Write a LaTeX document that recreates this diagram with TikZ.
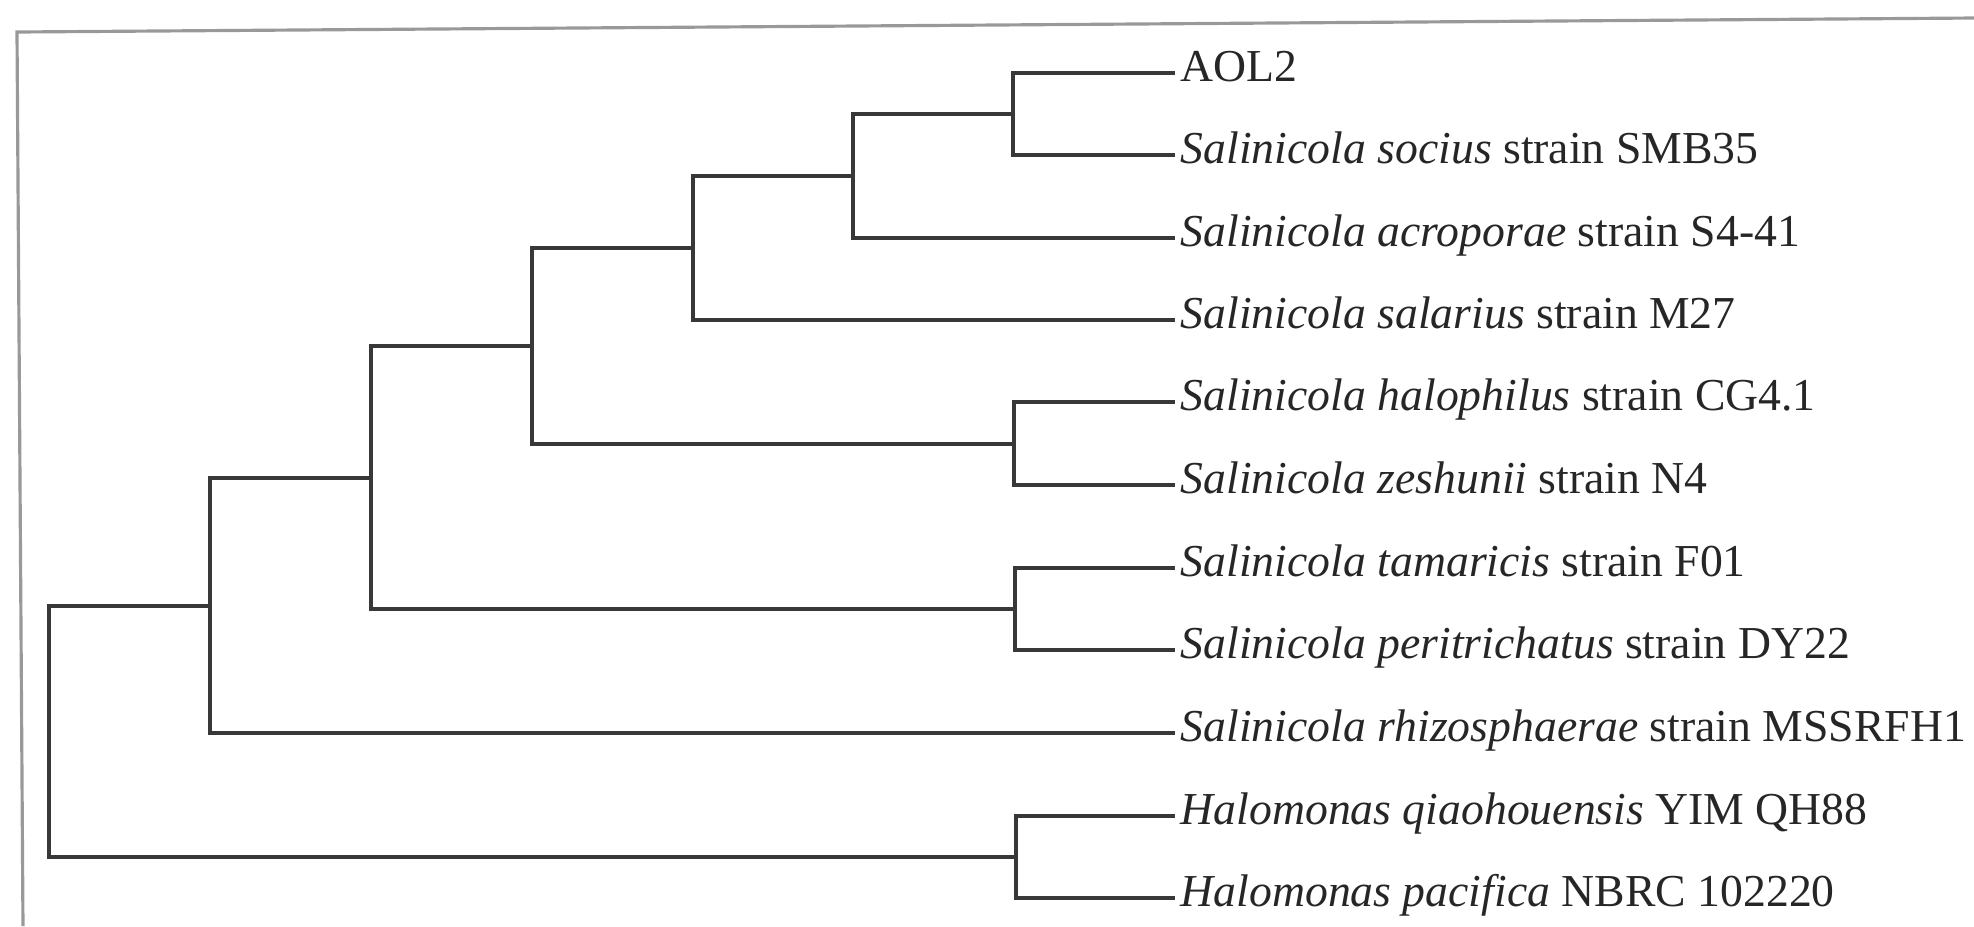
\documentclass[tikz,border=0pt]{standalone}
\usepackage{fontspec}
\setmainfont{Liberation Serif}
\usepackage{tikz}

\begin{document}
\begin{tikzpicture}[x=0.01cm,y=-0.01cm,
 branch/.style={draw=black!78,line width=1pt,line cap=rect},
 taxon/.style={anchor=west,inner xsep=2pt,inner ysep=0pt,text height=8.5pt,text depth=3.5pt,
  text=black!85,font=\fontsize{13}{15}\selectfont}]
 \useasboundingbox (0,0) rectangle (1974,926);
 % frame of the scanned figure (slightly tilted)
 \draw[black!40,line width=0.9pt] (23,926)--(17,32)--(1974,18);
 % taxa
 \node[taxon] (aol) at (1173,73) {AOL2};
 \node[taxon] (soc) at (1173,155) {\textit{Salinicola socius} strain SMB35};
 \node[taxon] (acr) at (1173,238) {\textit{Salinicola acroporae} strain S4-41};
 \node[taxon] (sal) at (1173,320) {\textit{Salinicola salarius} strain M27};
 \node[taxon] (hal) at (1173,402) {\textit{Salinicola halophilus} strain CG4.1};
 \node[taxon] (zes) at (1173,485) {\textit{Salinicola zeshunii} strain N4};
 \node[taxon] (tam) at (1173,568) {\textit{Salinicola tamaricis} strain F01};
 \node[taxon] (per) at (1173,650) {\textit{Salinicola peritrichatus} strain DY22};
 \node[taxon] (rhi) at (1173,733) {\textit{Salinicola rhizosphaerae} strain MSSRFH1};
 \node[taxon] (qia) at (1173,816) {\textit{Halomonas qiaohouensis} YIM QH88};
 \node[taxon] (pac) at (1173,898) {\textit{Halomonas pacifica} NBRC 102220};
 % internal nodes
 \coordinate (n1) at (1013,114);
 \coordinate (n2) at (853,176);
 \coordinate (n3) at (693,248);
 \coordinate (n4) at (1014,444);
 \coordinate (n5) at (532,346);
 \coordinate (n6) at (1015,609);
 \coordinate (n7) at (371,478);
 \coordinate (n8) at (210,606);
 \coordinate (n9) at (1016,857);
 \coordinate (root) at (49,731);
 % branches
 \draw[branch] (aol.west) -| (n1) |- (soc.west);
 \draw[branch] (n1) -| (n2) |- (acr.west);
 \draw[branch] (n2) -| (n3) |- (sal.west);
 \draw[branch] (hal.west) -| (n4) |- (zes.west);
 \draw[branch] (n3) -| (n5) |- (n4);
 \draw[branch] (tam.west) -| (n6) |- (per.west);
 \draw[branch] (n5) -| (n7) |- (n6);
 \draw[branch] (n7) -| (n8) |- (rhi.west);
 \draw[branch] (qia.west) -| (n9) |- (pac.west);
 \draw[branch] (n8) -| (root) |- (n9);
\end{tikzpicture}
\end{document}
